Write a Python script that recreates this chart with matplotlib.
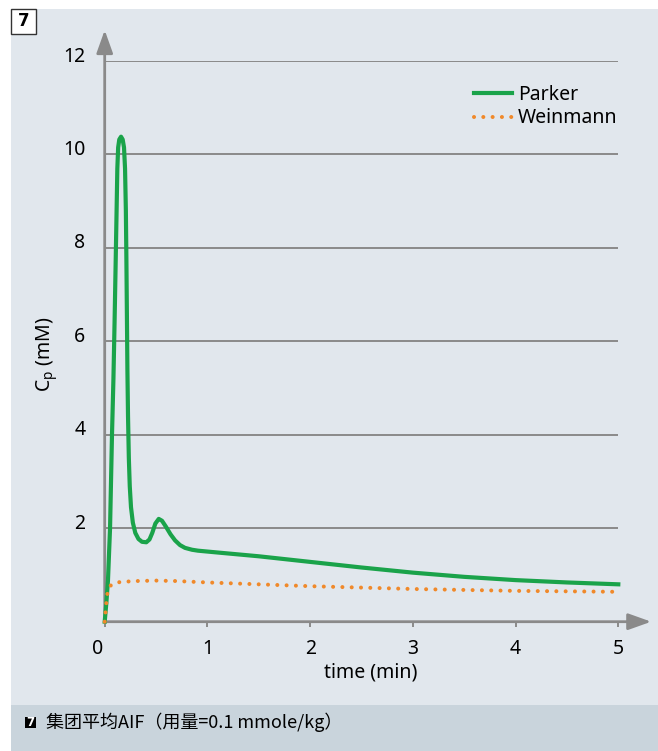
import matplotlib
matplotlib.use("Agg")
import matplotlib.pyplot as plt
import matplotlib.transforms as mtransforms
from matplotlib.patches import Rectangle

plt.rcParams['font.family'] = ['Noto Sans', 'DejaVu Sans']

# values
parker_t = [0.000, 0.016, 0.032, 0.052, 0.071, 0.085, 0.096, 0.106, 0.115, 0.123, 0.131, 0.142,
            0.159, 0.175, 0.188, 0.198, 0.206, 0.211, 0.216, 0.221, 0.227, 0.235, 0.244, 0.256,
            0.274, 0.298, 0.329, 0.363, 0.405, 0.436, 0.463, 0.493, 0.526, 0.558, 0.597, 0.641,
            0.685, 0.733, 0.782, 0.850, 0.908, 1.103, 1.5, 2.0, 2.5, 3.0, 3.5, 4.0, 4.5, 5.0]
parker_cp = [0.00, 0.40, 0.89, 2.00, 4.00, 5.20, 6.40, 7.60, 8.70, 9.70, 10.15, 10.32,
             10.38, 10.32, 10.15, 9.70, 8.80, 7.80, 6.60, 5.40, 4.40, 3.50, 2.90, 2.45,
             2.12, 1.90, 1.77, 1.71, 1.70, 1.76, 1.90, 2.10, 2.20, 2.16, 2.03, 1.87,
             1.74, 1.64, 1.58, 1.54, 1.52, 1.48, 1.40, 1.28, 1.16, 1.05, 0.96, 0.89, 0.84, 0.80]

weinmann_t = [0.0, 0.01, 0.02, 0.03, 0.05, 0.08, 0.15, 0.3, 0.5, 0.7, 1.0, 1.5, 2.0, 2.5,
              3.0, 3.5, 4.0, 4.5, 5.0]
weinmann_cp = [0.0, 0.25, 0.50, 0.66, 0.76, 0.81, 0.85, 0.87, 0.88, 0.87, 0.84, 0.80, 0.76, 0.73,
               0.70, 0.68, 0.66, 0.65, 0.64]

x_ticks = [0, 1, 2, 3, 4, 5]
y_ticks = [2, 4, 6, 8, 10, 12]

W, H = 658, 751
green = '#1aa34a'
orange = '#f0892a'
gray = '#8a8a8a'

fig = plt.figure(figsize=(W / 100, H / 100), dpi=100)
fig.patch.set_facecolor('white')

# panel background + caption band
fig.add_artist(Rectangle((11 / W, 0), (W - 11) / W, (H - 9) / H, transform=fig.transFigure,
                         facecolor='#e1e7ed', edgecolor='none', zorder=0))
fig.add_artist(Rectangle((11 / W, 0), (W - 11) / W, 46 / H, transform=fig.transFigure,
                         facecolor='#c9d4dc', edgecolor='none', zorder=0))

# number box top-left
fig.add_artist(Rectangle((11 / W, 1 - 33.5 / H), 24.5 / W, 24.5 / H, transform=fig.transFigure,
                         facecolor='white', edgecolor='#333333', lw=1, zorder=2))
fig.text(23.3 / W, 1 - 21.5 / H, '7', fontsize=12, fontweight='bold', family='DejaVu Sans',
         ha='center', va='center', zorder=3)

# caption
fig.add_artist(Rectangle((25 / W, 1 - 728 / H), 11 / W, 11 / H, transform=fig.transFigure,
                         facecolor='black', edgecolor='none', zorder=2))
fig.text(30.5 / W, 1 - 722.3 / H, '7', fontsize=8.5, fontweight='bold', color='white',
         family='DejaVu Sans', ha='center', va='center', zorder=3)
fig.text(46 / W, 1 - 722 / H, '集团平均AIF（用量=0.1 mmole/kg）', fontsize=13,
         family=['Noto Sans CJK SC', 'DejaVu Sans'], ha='left', va='center', zorder=3)

ax = fig.add_axes([104.7 / W, (H - 621.7) / H, 513.6 / W, 560.7 / H])
ax.set_facecolor('none')
ax.set_xlim(0, 5)
ax.set_ylim(0, 12)
for s in ax.spines.values():
    s.set_visible(False)

ax.set_axisbelow(True)
ax.set_yticks(y_ticks)
ax.set_xticks(x_ticks)
ax.yaxis.grid(True, color=gray, lw=1.4)
ax.tick_params(axis='x', length=3.6, width=1.4, color=gray, direction='out', labelsize=14, pad=9)
ax.tick_params(axis='y', length=0, labelsize=14, pad=14)

# axis arrows
ax.annotate('', xy=(0, 12.66), xytext=(0, 0),
            arrowprops=dict(arrowstyle='-|>,head_length=14,head_width=5', mutation_scale=1,
                            color=gray, lw=2, shrinkA=0, shrinkB=0), annotation_clip=False)
ax.annotate('', xy=(5.32, 0), xytext=(0, 0),
            arrowprops=dict(arrowstyle='-|>,head_length=14,head_width=5', mutation_scale=1,
                            color=gray, lw=2, shrinkA=0, shrinkB=0), annotation_clip=False)

ax.plot(parker_t, parker_cp, color=green, lw=3, solid_joinstyle='round', label='Parker',
        clip_on=False, zorder=3)
ax.plot(weinmann_t, weinmann_cp, color=orange, lw=2.9, linestyle=(0, (0.01, 2.3)),
        dash_capstyle='round', label='Weinmann', clip_on=False, zorder=3)

# nudge tick labels like the reference
up = mtransforms.ScaledTranslation(0, 5 / 72, fig.dpi_scale_trans)
for lab in ax.get_yticklabels():
    lab.set_transform(lab.get_transform() + up)
left = mtransforms.ScaledTranslation(-5 / 72, 0, fig.dpi_scale_trans)
lab0 = ax.get_xticklabels()[0]
lab0.set_transform(lab0.get_transform() + left)

ax.set_xlabel('time (min)', fontsize=14)
ax.xaxis.set_label_coords(0.518, -0.072)
ax.set_ylabel(r'C$_\mathregular{p}$ (mM)', fontsize=14)
ax.yaxis.set_label_coords(-0.087, 0.477)

ax.legend(loc='upper left', bbox_to_anchor=(0.719, 0.958), frameon=False, fontsize=14,
          handlelength=1.95, handletextpad=0.3, labelspacing=0.2, borderpad=0, borderaxespad=0)

fig.savefig('out.png', dpi=100)
